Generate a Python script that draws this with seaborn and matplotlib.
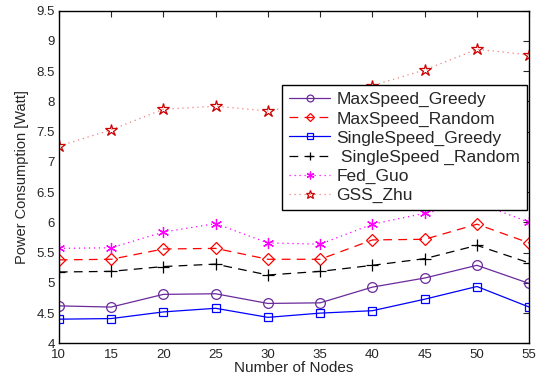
import matplotlib
matplotlib.use("Agg")
import matplotlib.pyplot as plt
import seaborn as sns
import pandas as pd

nodos = [10, 15, 20, 25, 30, 35, 40, 45, 50, 55]

max_greedy = [4.62, 4.60, 4.81, 4.82, 4.66, 4.67, 4.93, 5.08, 5.29, 4.99]
max_random = [5.38, 5.39, 5.56, 5.57, 5.39, 5.39, 5.71, 5.72, 5.97, 5.66]
single_greedy = [4.40, 4.41, 4.52, 4.58, 4.43, 4.50, 4.54, 4.73, 4.94, 4.60]
single_random = [5.18, 5.19, 5.27, 5.31, 5.13, 5.19, 5.29, 5.40, 5.62, 5.33]
fed_guo = [5.57, 5.58, 5.84, 5.98, 5.66, 5.64, 5.97, 6.15, 6.33, 6.00]
gss_zhu = [7.26, 7.53, 7.87, 7.92, 7.84, 8.00, 8.26, 8.52, 8.86, 8.77]

etiquetas = ["MaxSpeed_Greedy", "MaxSpeed_Random", "SingleSpeed_Greedy",
             " SingleSpeed _Random", "Fed_Guo", "GSS_Zhu"]

sns.set_style("white")
plt.rcParams["font.family"] = ["Liberation Sans", "DejaVu Sans"]

fig = plt.figure(figsize=(5.45, 3.79), dpi=100)
ax = fig.add_axes([0.108, 0.094, 0.863, 0.878])

series = [
    (max_greedy, etiquetas[0], dict(color="#6a2a9c", linestyle="-", marker="o", mec="#6a2a9c")),
    (max_random, etiquetas[1], dict(color="#ff0000", linestyle=(0, (7, 5)), marker="D", mec="#ff0000", markersize=6)),
    (single_greedy, etiquetas[2], dict(color="#0000ff", linestyle="-", marker="s", mec="#0000ff", markersize=6)),
    (single_random, etiquetas[3], dict(color="black", linestyle=(0, (7, 5)), marker="+", mec="black", markersize=8)),
    (fed_guo, etiquetas[4], dict(color="#ff00ff", linestyle=(0, (1, 3)), marker=(6, 2, 0), mec="#ff00ff", markersize=8)),
    (gss_zhu, etiquetas[5], dict(color="#f08080", linestyle=(0, (1, 3)), marker="*", mec="#cc0000", markersize=9)),
]

for valores, nombre, estilo in series:
    tabla = pd.DataFrame({"nodos": nodos, "valor": valores})
    opciones = dict(markersize=7, markerfacecolor="none", markeredgewidth=0.9, linewidth=0.9)
    opciones.update(estilo)
    sns.lineplot(data=tabla, x="nodos", y="valor", ax=ax, label=nombre, **opciones)

ax.set_xlim(10, 55)
ax.set_ylim(4, 9.5)
ax.set_xticks(nodos)
ax.set_yticks([4, 4.5, 5, 5.5, 6, 6.5, 7, 7.5, 8, 8.5, 9, 9.5])
ax.set_yticklabels(["4", "4.5", "5", "5.5", "6", "6.5", "7", "7.5", "8", "8.5", "9", "9.5"])
ax.tick_params(direction="in", top=True, right=True, length=4, width=0.8, labelsize=9.5, pad=3)
ax.tick_params(axis="x", pad=4)
for lado in ax.spines.values():
    lado.set_color("black")
    lado.set_linewidth(1.0)

ax.set_xlabel("Number of Nodes", fontsize=11, labelpad=0)
ax.set_ylabel("Power Consumption [Watt]", fontsize=10.5, labelpad=5)

leyenda = ax.legend(loc="upper right", bbox_to_anchor=(0.996, 0.777), fontsize=12.5,
                    fancybox=False, edgecolor="black", framealpha=1, borderaxespad=0,
                    handlelength=2.35, labelspacing=0.22, borderpad=0.42, handletextpad=0.35,
                    markerscale=0.7)
leyenda.get_frame().set_linewidth(1.0)

fig.savefig("out.png", dpi=100)
